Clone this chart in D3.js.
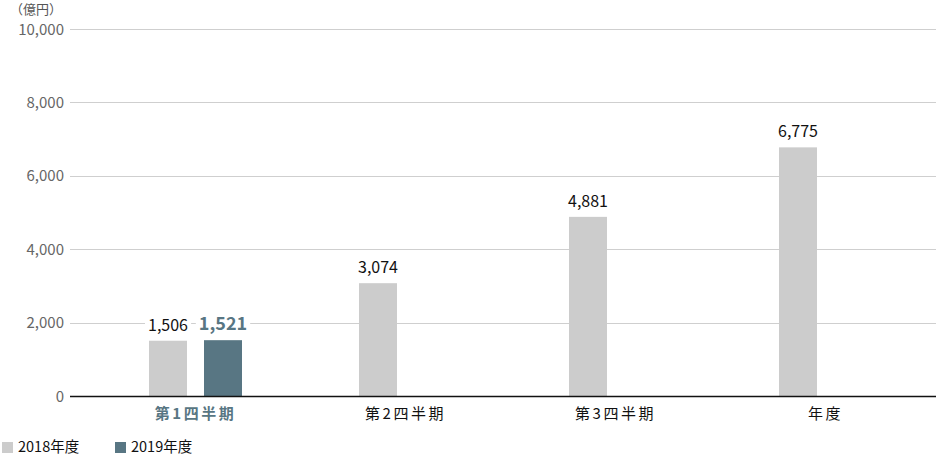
<!DOCTYPE html>
<html><head><meta charset="utf-8">
<script src="https://cdn.jsdelivr.net/npm/d3@7"></script>
<style>
body{margin:0;background:#fff;}
text{font-family:"Noto Sans CJK JP","Noto Sans",sans-serif;}
</style></head>
<body><svg id="c" width="936" height="456"></svg>
<script>
const categories = ["第1四半期","第2四半期","第3四半期","年度"];
const series2018 = [1506, 3074, 4881, 6775];
const series2019 = [1521, null, null, null];
const seriesNames = ["2018年度","2019年度"];
const yTicks = [0, 2000, 4000, 6000, 8000, 10000];
const unitLabel = "（億円）";

const colors = ["#cccccc","#587683"];
const svg = d3.select("#c");
const x = d3.scaleBand().domain(categories).range([63, 903]);
const y = d3.scaleLinear().domain([0, 10000]).range([396, 29]);
const barW = 38, offset2019 = 55;

// grid
svg.append("g").selectAll("line").data(yTicks.filter(d=>d>0)).join("line")
  .attr("x1",70).attr("x2",936).attr("y1",d=>Math.round(y(d))+0.5).attr("y2",d=>Math.round(y(d))+0.5)
  .attr("stroke","#cfcfcf").attr("stroke-width",1);

const cx = c => x(c) + x.bandwidth()/2;
const bars = [];
categories.forEach((c,i)=>{
  if (series2018[i]!=null) bars.push({c, v:series2018[i], s:0, xc:cx(c)});
  if (series2019[i]!=null) bars.push({c, v:series2019[i], s:1, xc:cx(c)+offset2019});
});

svg.append("g").selectAll("rect").data(bars).join("rect")
  .attr("x",d=>d.xc-barW/2).attr("width",barW)
  .attr("y",d=>y(d.v)).attr("height",d=>y(0)-y(d.v))
  .attr("fill",d=>colors[d.s]);

svg.append("line").attr("x1",70).attr("x2",936).attr("y1",y(0)+0.5).attr("y2",y(0)+0.5)
  .attr("stroke","#111").attr("stroke-width",1.5);

// y tick labels
svg.append("g").selectAll("text").data(yTicks).join("text")
  .attr("x",64).attr("y",d=>y(d)+5.5).attr("text-anchor","end")
  .attr("font-size",15).attr("fill","#666").text(d=>d3.format(",")(d));
svg.append("text").attr("x",10).attr("y",14).attr("font-size",13).attr("fill","#555").text(unitLabel);

// value labels with white background
const lg = svg.append("g");
bars.forEach(d=>{
  const t = lg.append("text").attr("x",d.xc).attr("y",y(d.v)-10)
    .attr("text-anchor","middle")
    .attr("font-size",d.s===1?18:16)
    .attr("font-weight",d.s===1?"bold":"normal")
    .attr("fill",d.s===1?colors[1]:"#111")
    .text(d3.format(",")(d.v));
  const bb = t.node().getBBox();
  lg.insert("rect","text:last-child").attr("x",bb.x-3).attr("y",bb.y).attr("width",bb.width+6).attr("height",bb.height).attr("fill","#fff");
});

// category labels (centred on the two-bar group slot)
categories.forEach((c,i)=>{
  const hi = series2019[i]!=null;
  svg.append("text").attr("x",cx(c)+offset2019/2).attr("y",419).attr("text-anchor","middle")
    .attr("font-size",15).attr("letter-spacing",2.5)
    .attr("font-weight",hi?"bold":"normal").attr("fill",hi?colors[1]:"#111").text(c);
});

// legend
const legX = [2, 115];
seriesNames.forEach((n,i)=>{
  svg.append("rect").attr("x",legX[i]).attr("y",442).attr("width",11).attr("height",11).attr("fill",colors[i]);
  svg.append("text").attr("x",legX[i]+16).attr("y",452).attr("font-size",14.5).attr("fill","#111").text(n);
});
</script></body></html>
